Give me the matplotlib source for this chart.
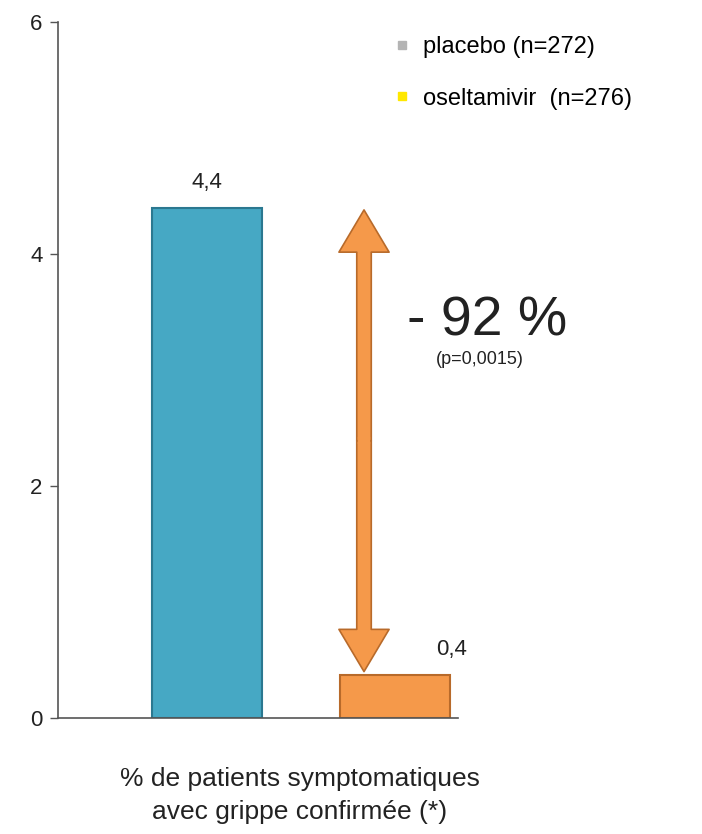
import matplotlib.pyplot as plt
from matplotlib.lines import Line2D
from matplotlib.patches import FancyArrowPatch

plt.rcParams['font.family'] = ['Liberation Sans', 'DejaVu Sans']

groups = ['placebo', 'oseltamivir']
values = [4.4, 0.37]
value_labels = ['4,4', '0,4']
legend_labels = ['placebo (n=272)', 'oseltamivir  (n=276)']
legend_colors = ['#b4b4b4', '#ffe800']
reduction = '- 92 %'
pvalue = '(p=0,0015)'
xlabel = '% de patients symptomatiques\navec grippe confirmée (*)'

bar_colors = ['#46a8c4', '#f5994a']
edge_colors = ['#2b7890', '#b86a2a']
arrow_x = 0.835
arrow_ends = (0.40, 4.38)

fig = plt.figure(figsize=(7.02, 8.34), dpi=100)
ax = fig.add_axes([58/702, 116/834, 400/702, 696/834])

pos = [0, 1]
ax.bar(pos, values, width=0.585, color=bar_colors, edgecolor=edge_colors, linewidth=1.5)
for p, v, lab in zip(pos, values, value_labels):
    dx = 0.3 if p == 1 else 0
    ax.text(p + dx, v + 0.13, lab, ha='center', va='bottom', fontsize=16, color='#222222')

# double arrow showing the reduction, drawn as two halves from the middle
mid = sum(arrow_ends) / 2
style = 'simple,head_length=1.6,head_width=1.9,tail_width=0.55'
for end in arrow_ends:
    ax.add_patch(FancyArrowPatch((arrow_x, mid), (arrow_x, end), arrowstyle=style,
                                 mutation_scale=19, fc='#f5994a', ec='#b86a2a', lw=1.2,
                                 shrinkA=0, shrinkB=0))
# hide the seam between the two halves
ax.plot([arrow_x, arrow_x], [mid - 0.03, mid + 0.03], color='#f5994a', lw=8.9,
        solid_capstyle='butt', zorder=3)

ax.text(1.49, 3.42, reduction, ha='center', va='center', fontsize=40, color='#222222')
ax.text(1.45, 3.09, pvalue, ha='center', va='center', fontsize=13, color='#222222')

ax.set_xlim(-0.793, 1.335)
ax.set_ylim(0, 6)
ax.set_yticks([0, 2, 4, 6])
ax.set_xticks([])
ax.tick_params(axis='y', labelsize=16, length=6, width=1, color='#555555', labelcolor='#222222', pad=5)
for s in ['top', 'right']:
    ax.spines[s].set_visible(False)
for s in ['left', 'bottom']:
    ax.spines[s].set_color('#555555')
    ax.spines[s].set_linewidth(1.2)

ax.set_xlabel(xlabel, fontsize=19, color='#222222', linespacing=1.5)
ax.xaxis.set_label_coords(0.605, -0.07)
ax.xaxis.label.set_va('top')

handles = [Line2D([], [], marker='s', ls='', color=c, markersize=6) for c in legend_colors]
fig.legend(handles, legend_labels, loc='upper left', bbox_to_anchor=(390/702, 1 - 36/834),
           frameon=False, fontsize=17, handletextpad=0.4, labelspacing=1.25, handlelength=1.0,
           borderpad=0, borderaxespad=0)

fig.savefig('out.png', dpi=100)
